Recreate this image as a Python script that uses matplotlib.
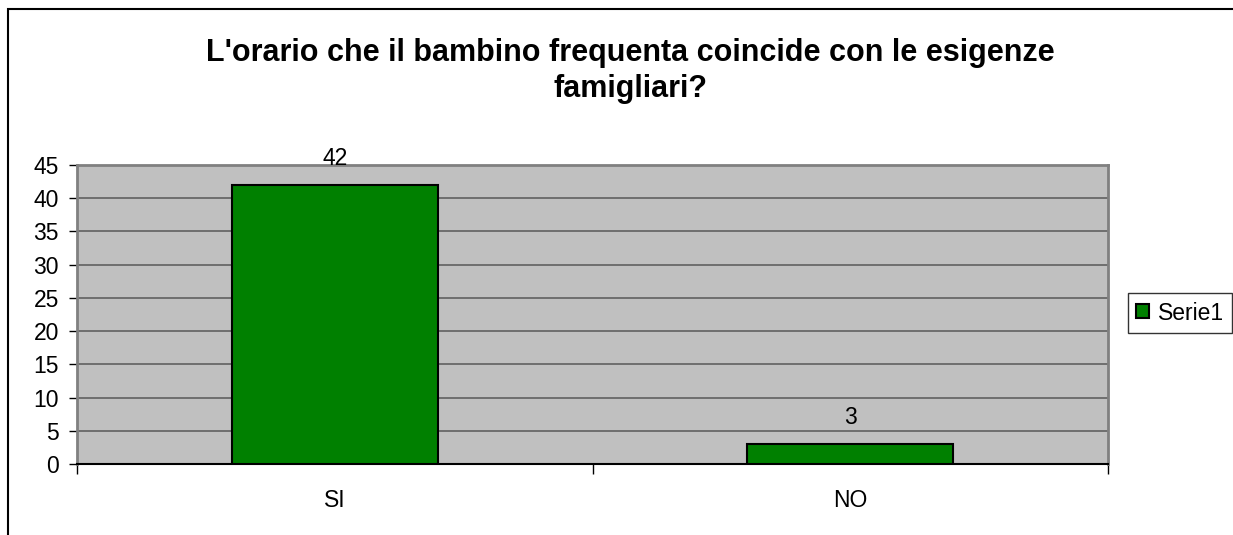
import matplotlib
matplotlib.use("Agg")
import matplotlib.pyplot as plt
from matplotlib.patches import Rectangle

categories = ["SI", "NO"]
values = [42, 3]
series_name = "Serie1"
title = "L'orario che il bambino frequenta coincide con le esigenze\nfamigliari?"
y_ticks = [0, 5, 10, 15, 20, 25, 30, 35, 40, 45]

plt.rcParams["font.family"] = ["Liberation Sans", "DejaVu Sans"]

W, H = 1233, 535
fig = plt.figure(figsize=(W / 100, H / 100), dpi=100)

# outer chart frame (extends past right and bottom edges)
fig.add_artist(Rectangle((8 / W, -0.1), 1.2, 1 - 8 / H + 0.1 - 1 / H,
                         transform=fig.transFigure, fill=False,
                         edgecolor="black", linewidth=1.5))

left, right, top, bottom = 77, 1108, 165, 464
ax = fig.add_axes([left / W, 1 - bottom / H, (right - left) / W, (bottom - top) / H])
ax.set_facecolor("#c0c0c0")

FS = 16.5

x = list(range(len(categories)))
bars = ax.bar(x, values, width=0.4, color="#008000", edgecolor="black",
              linewidth=1.5, zorder=3, label=series_name)
for xi, v in zip(x, values):
    ax.annotate(str(v), (xi, v), xytext=(0, 11), textcoords="offset points",
                ha="center", va="bottom", fontsize=FS)

ax.set_xlim(-0.5, len(categories) - 0.5)
ax.set_ylim(0, 45)
ax.set_yticks(y_ticks)
ax.set_yticklabels([str(t) for t in y_ticks], fontsize=FS)
ax.yaxis.grid(True, color="#606060", linewidth=1.2, zorder=1)
ax.set_axisbelow(True)

ax.set_xticks([i - 0.5 for i in range(len(categories) + 1)], minor=False)
ax.set_xticklabels([])
ax.set_xticks(x, minor=True)
ax.set_xticklabels(categories, minor=True, fontsize=FS)
ax.tick_params(axis="x", which="major", direction="out", length=7, width=1, color="black")
ax.tick_params(axis="x", which="minor", length=0, pad=18)
ax.tick_params(axis="y", direction="out", length=6, width=1, color="black", pad=7)

for s in ["top", "right", "left"]:
    ax.spines[s].set_color("#808080")
    ax.spines[s].set_linewidth(2)
ax.spines["bottom"].set_color("black")
ax.spines["bottom"].set_linewidth(1.5)

fig.text(630 / W, 1 - 71 / H, title, ha="center", va="center",
         fontsize=22, fontweight="bold", linespacing=1.3)

leg = ax.legend(loc="center left", bbox_to_anchor=(1128 / W, 1 - 313 / H),
                bbox_transform=fig.transFigure, fontsize=FS, frameon=True,
                fancybox=False, edgecolor="black", handlelength=0.55,
                handleheight=0.55, handletextpad=0.4, borderpad=0.35,
                borderaxespad=0)
leg.get_frame().set_linewidth(1)

fig.savefig("out.png", dpi=100)
